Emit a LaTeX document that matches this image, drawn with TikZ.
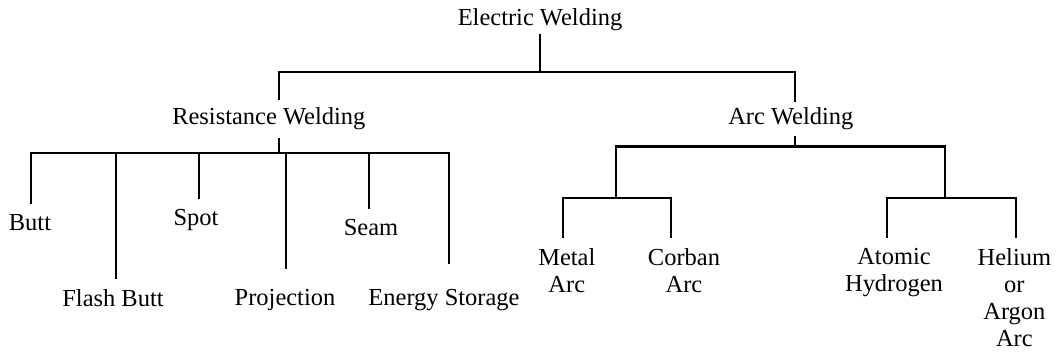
\documentclass[tikz,border=0pt]{standalone}
\usepackage{fontspec}
\setmainfont{Liberation Serif}
\usepackage{tikz}

\begin{document}
\begin{tikzpicture}[
    line width=1.5pt,
    tree text/.style={
        font=\fontsize{17.4pt}{19.3pt}\selectfont,
        align=center,
        inner xsep=0pt
    },
    leaf text/.style={
        tree text,
        anchor=north,
        inner ysep=0.225cm
    }
  ]

  \useasboundingbox (0,0) rectangle (26.4,8.8);

  \node[tree text, anchor=base, inner ysep=0.05cm] (ew) at (13.5,8.16) {Electric Welding};
  \node[tree text, anchor=base, inner ysep=0.17cm] (rw) at (6.72,5.675) {Resistance Welding};
  \node[tree text, anchor=base, inner ysep=0.12cm] (aw) at (19.77,5.675) {Arc Welding};

  % resistance welding leaves
  \node[leaf text] (butt) at (0.75,3.693) {Butt};
  \node[leaf text] (flash) at (2.825,1.818) {Flash Butt};
  \node[leaf text] (spot) at (4.9,3.818) {Spot};
  \node[leaf text] (proj) at (7.125,1.818) {Projection};
  \node[leaf text] (seam) at (9.275,3.568) {Seam};
  \node[leaf text] (energy) at (11.1,1.818) {Energy Storage};

  % arc welding leaves
  \node[leaf text] (metal) at (14.17,2.85) {Metal\\Arc};
  \node[leaf text] (corban) at (17.1,2.85) {Corban\\Arc};
  \node[leaf text] (atomic) at (22.35,2.85) {Atomic\\Hydrogen};
  \node[leaf text] (helium) at (25.36,2.85) {Helium\\or\\Argon\\Arc};

  \coordinate (top_l) at (6.975,7.0);
  \coordinate (top_r) at (19.875,7.0);

  \draw (ew.south) -- (ew.south |- top_l);
  \draw (top_l |- rw.north) -- (top_l) -- (top_r) -- (top_r |- aw.north);

  \coordinate (rw_j) at (6.975,4.975);
  \coordinate (rb_butt) at (0.775,4.975);
  \coordinate (rb_flash) at (2.9,4.975);
  \coordinate (rb_spot) at (4.975,4.975);
  \coordinate (rb_proj) at (7.15,4.975);
  \coordinate (rb_seam) at (9.225,4.975);
  \coordinate (rb_energy) at (11.225,4.975);

  \draw (rw.south -| rw_j) -- (rw_j);
  \draw[shorten >=0.38cm] (rb_butt |- butt.north) -- (rb_butt) -- (rb_energy) -- (rb_energy |- energy.north);
  \draw (rb_flash) -- (rb_flash |- flash.north);
  \draw (rb_spot) -- (rb_spot |- spot.north);
  \draw[shorten >=0.25cm] (rb_proj) -- (rb_proj |- proj.north);
  \draw (rb_seam) -- (rb_seam |- seam.north);

  \coordinate (aw_j) at (19.875,5.1375);
  \coordinate (ab_l) at (15.4,5.1375);
  \coordinate (ab_r) at (23.625,5.1375);

  \coordinate (ml_j) at (14.075,3.85);
  \coordinate (cb_j) at (16.775,3.85);
  \coordinate (ah_j) at (22.175,3.85);
  \coordinate (he_j) at (25.39,3.85);

  \draw (aw.south -| aw_j) -- (aw_j);
  \draw (ab_l |- ml_j) -- (ab_l) -- (ab_r) -- (ab_r |- he_j);

  \draw (ml_j |- metal.north) -- (ml_j) -- (cb_j) -- (cb_j |- corban.north);
  \draw (ah_j |- atomic.north) -- (ah_j) -- (he_j) -- (he_j |- helium.north);

\end{tikzpicture}
\end{document}
